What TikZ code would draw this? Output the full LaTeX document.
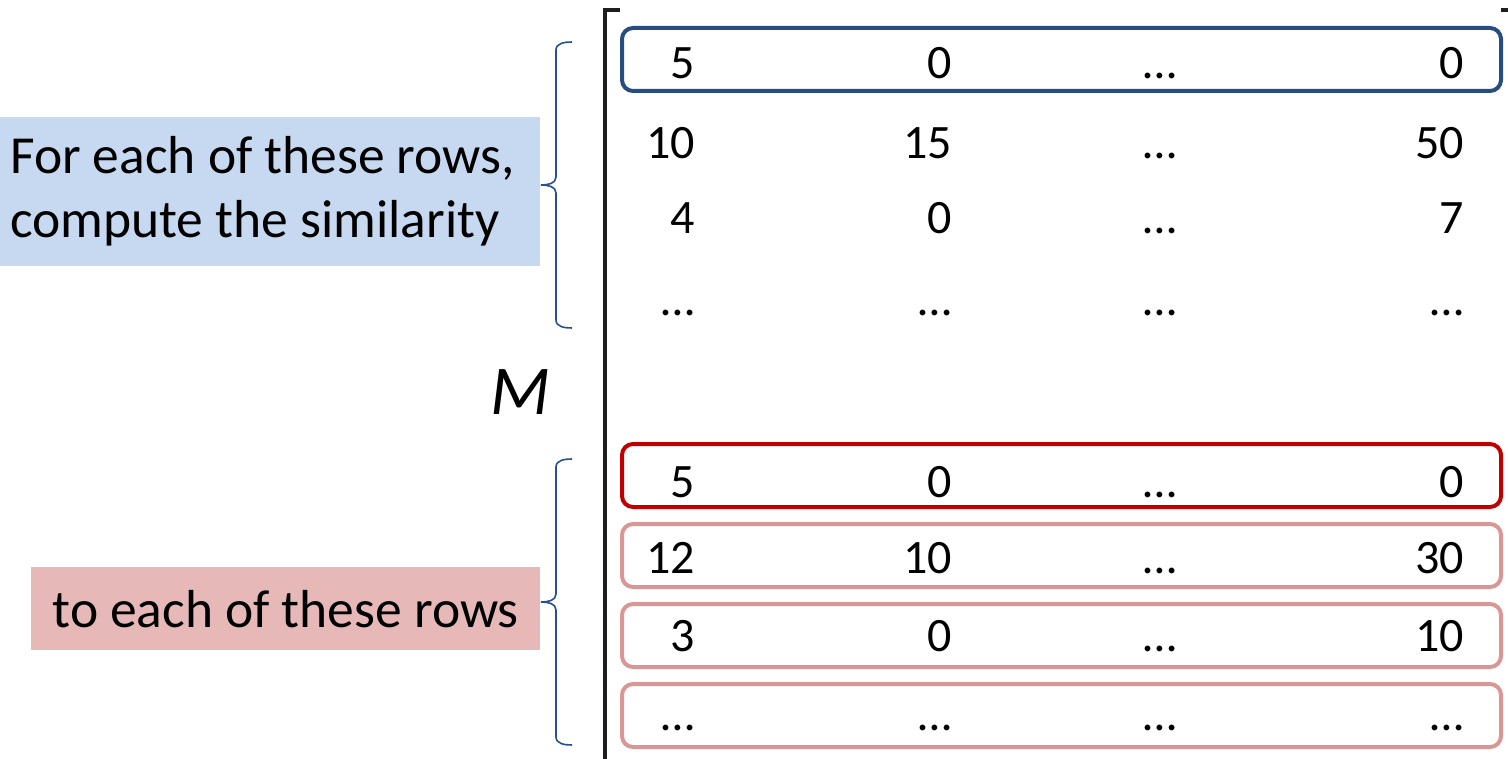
\documentclass[tikz,border=0pt]{standalone}
\usepackage{fontspec}
\setmainfont{Carlito}
\definecolor{rowblue}{RGB}{38,76,128}
\definecolor{rowred}{RGB}{192,0,0}
\definecolor{rowpink}{RGB}{217,150,148}
\definecolor{bracecol}{RGB}{40,80,140}
\definecolor{lblblue}{RGB}{198,217,241}
\definecolor{lblpink}{RGB}{230,185,184}
\definecolor{ink}{RGB}{30,30,30}
\tikzset{
  num/.style={font=\fontsize{48}{58}\selectfont, anchor=base east, inner sep=0pt},
  numc/.style={font=\fontsize{48}{58}\selectfont, anchor=base, inner sep=0pt},
  rowbox/.style={draw, line width=4pt, rounded corners=11pt, minimum width=879pt, minimum height=63pt, anchor=north west, inner sep=0pt},
  bracepath/.style={draw=bracecol, line width=1.6pt},
  lbl/.style={font=\fontsize{53.5}{64}\selectfont, inner sep=0pt}
}
\begin{document}
\begin{tikzpicture}[x=1pt,y=-1pt]
\useasboundingbox (0,0) rectangle (1508,759);
% matrix bracket
\draw[ink, line width=4pt] (620,10) -- (605,10) -- (605,770);
\draw[ink, line width=4pt] (1501,10) -- (1515,10);
% row boxes
\node[rowbox, draw=rowblue] (b1) at (620,26) {};
\node[rowbox, draw=rowred] (r1) at (620,442) {};
\node[rowbox, draw=rowpink] (p1) at (620,522) {};
\node[rowbox, draw=rowpink] (p2) at (620,602) {};
\node[rowbox, draw=rowpink] (p3) at (620,682) {};
% top rows
\node[num] (a11) at (695,79) {5};
\node[num] (a12) at (952,79) {0};
\node[numc] (a13) at (1160,79) {…};
\node[num] (a14) at (1464,79) {0};
\node[num] (a21) at (695,159) {10};
\node[num] (a22) at (952,159) {15};
\node[numc] (a23) at (1160,159) {…};
\node[num] (a24) at (1464,159) {50};
\node[num] (a31) at (695,234) {4};
\node[num] (a32) at (952,234) {0};
\node[numc] (a33) at (1160,234) {…};
\node[num] (a34) at (1464,234) {7};
\node[num] (a41) at (695,316) {…};
\node[num] (a42) at (952,316) {…};
\node[numc] (a43) at (1160,316) {…};
\node[num] (a44) at (1464,316) {…};
% bottom rows
\node[num] (c11) at (695,497) {5};
\node[num] (c12) at (952,497) {0};
\node[numc] (c13) at (1160,497) {…};
\node[num] (c14) at (1464,497) {0};
\node[num] (c21) at (695,573) {12};
\node[num] (c22) at (952,573) {10};
\node[numc] (c23) at (1160,573) {…};
\node[num] (c24) at (1464,573) {30};
\node[num] (c31) at (695,651) {3};
\node[num] (c32) at (952,651) {0};
\node[numc] (c33) at (1160,651) {…};
\node[num] (c34) at (1464,651) {10};
\node[num] (c41) at (695,730) {…};
\node[num] (c42) at (952,730) {…};
\node[numc] (c43) at (1160,730) {…};
\node[num] (c44) at (1464,730) {…};
% M
\node[font=\fontsize{70}{76}\selectfont\itshape, inner sep=0pt] (M) at (520,392) {M};
% labels
\node[lbl, fill=lblblue, anchor=north west, minimum width=540pt, minimum height=149pt, text width=520pt, align=flush left, inner xsep=10pt] (L1) at (0,117) {\raisebox{-4pt}{}For each of these rows,\\compute the similarity};
\node[lbl, fill=lblpink, anchor=north west, minimum width=509pt, minimum height=83pt, align=center] (L2) at (31,567) {to each of these rows};
% braces
\coordinate (t1) at (541,185);
\coordinate (t2) at (541,602);
\draw[bracepath] (572,42) to[out=180,in=90] (556,50) -- (556,177) to[out=-90,in=0] (t1) to[out=0,in=90] (556,193) -- (556,320) to[out=-90,in=180] (572,328);
\draw[bracepath] (572,459) to[out=180,in=90] (556,467) -- (556,594) to[out=-90,in=0] (t2) to[out=0,in=90] (556,610) -- (556,737) to[out=-90,in=180] (572,745);
\end{tikzpicture}
\end{document}
